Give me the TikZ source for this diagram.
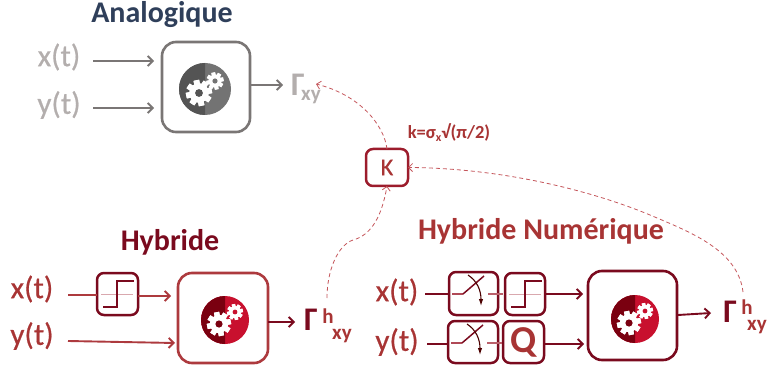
\documentclass[tikz,border=0pt]{standalone}
\usepackage{fontspec}
\setmainfont{Carlito}
\newfontfamily\medf[FakeBold=0.5]{Carlito}
\usetikzlibrary{arrows.meta}
\definecolor{navy}{HTML}{2F3F5A}
\definecolor{greyT}{HTML}{B3AEAD}
\definecolor{greyL}{HTML}{7A7675}
\definecolor{redT}{HTML}{A83434}
\definecolor{redD}{HTML}{7A0A1E}
\definecolor{redM}{HTML}{9C1C2C}
\definecolor{redL}{HTML}{D9A8AE}
\definecolor{redBox}{HTML}{AD3A3E}
\definecolor{redG}{HTML}{C8102E}
\definecolor{darkG}{HTML}{7A0010}
\definecolor{dashC}{HTML}{C4555A}
\newcommand{\fs}[1]{\fontsize{#1}{#1}\selectfont}
\newcommand{\gearshape}[4]{% x y r holecolor
  \foreach \a in {0,45,...,315}{
    \fill[white,rotate around={\a+12:(#1,#2)}] (#1-0.22*#3,#2-#3) rectangle (#1+0.22*#3,#2+#3);
  }
  \fill[white] (#1,#2) circle[radius=0.76*#3*1pt];
  \fill[#4] (#1,#2) circle[radius=0.3*#3*1pt];
}
\newcommand{\gearicon}[5]{% x y r left right
  \fill[#5] (#1,#2) circle[radius=#3pt];
  \begin{scope}
    \clip (#1-#3-1,#2-#3-1) rectangle (#1,#2+#3+1);
    \fill[#4] (#1,#2) circle[radius=#3pt];
  \end{scope}
  \gearshape{#1-6}{#2+4}{0.5*#3}{#4}
  \gearshape{#1+10}{#2-8}{0.33*#3}{#5}
}
\newcommand{\stepsym}[1]{% centre x of box, y of axis
  \draw[redL,line width=1pt] (#1-16,294) -- (#1+16,294);
  \draw[redD,line width=2pt] (#1-14,307) -- (#1,307) -- (#1,281) -- (#1+17,281);
}
\newcommand{\switchsym}[2]{% box left x, axis y
  \draw[redM!80,line width=1.5pt] (#1+4,#2) -- (#1+15,#2);
  \draw[redD,line width=1.5pt] (#1+15,#2) -- (#1+36,#2-18);
  \draw[redM!70,line width=1.5pt] (#1+40,#2) -- (#1+55,#2);
  \draw[line width=1.1pt,-{Latex[length=7pt,width=4.5pt]},black!70!red] (#1+20,#2-19) .. controls (#1+29,#2-13) and (#1+33,#2-4) .. (#1+33,#2+12);
}
\tikzset{
  every node/.style={inner sep=0pt,outer sep=0pt},
  block/.style={draw,rounded corners=#1,fill=white},
  block/.default=12pt,
  mainG/.style={block=14pt,draw=greyL,line width=2.6pt,minimum width=88pt,minimum height=90pt},
  mainR/.style={block=14pt,draw=redBox,line width=2.6pt,minimum width=90pt,minimum height=90pt},
  mainN/.style={block=14pt,draw=redD,line width=2.6pt,minimum width=89pt,minimum height=89pt},
  small/.style={block=7pt,draw=redD,line width=2.5pt},
  lbl/.style={font=\fs{31}\medf},
  gam/.style={font=\fs{33}\bfseries},
  ttl/.style={font=\fs{30}\bfseries},
  sub/.style={font=\fs{21}\bfseries},
  arrG/.style={draw=greyL,line width=1.9pt,-{Straight Barb[length=5pt,width=10pt]}},
  arrR/.style={draw=redBox,line width=1.9pt,-{Straight Barb[length=5pt,width=10pt]}},
  arrD/.style={draw=redD,line width=1.9pt,-{Straight Barb[length=5pt,width=10pt]}},
  lineD/.style={draw=redD,line width=1.9pt},
  lineR/.style={draw=redBox,line width=1.9pt},
  dashA/.style={draw=dashC,line width=0.8pt,dash pattern=on 4pt off 3pt,-{Straight Barb[length=4pt,width=8pt]}},
}
\begin{document}
\begin{tikzpicture}[x=1pt,y=-1pt]
\useasboundingbox (0,0) rectangle (767,371);
% Analogique
\node[ttl,text=navy] (tA) at (162,15) {Analogique};
\node[lbl,text=greyT] (xA) at (59,57) {x(t)};
\node[lbl,text=greyT] (yA) at (59,105) {y(t)};
\node[mainG] (bA) at (206,87) {};
\gearicon{205}{89}{26}{black!67}{black!55}
\node[gam,text=greyT] (gA) at (298,85) {Γ};
\node[sub,text=greyT] (sA) at (311,97) {xy};
\coordinate (xAa) at (93,61); \coordinate (xAb) at (154,61);
\coordinate (yAa) at (93,108); \coordinate (yAb) at (154,108);
\coordinate (oAb) at (283,85);
\draw[arrG] (xAa) -- (xAb);
\draw[arrG] (yAa) -- (yAb);
\draw[arrG] (bA.east |- oAb) -- (oAb);
% K
\node[small,draw=redM,minimum width=42pt,minimum height=37pt,text=redT,font=\fs{24}\medf] (K) at (387,167.5) {K};
\node[text=redT,font=\fs{18.5}\bfseries,anchor=base] (kl) at (449,139) {k=σ\raisebox{-3pt}{\fs{12}x}√(π/2)};
% Hybride
\node[ttl,text=redD] (tH) at (170,242) {Hybride};
\node[lbl,text=redT] (xH) at (32,289) {x(t)};
\node[lbl,text=redT] (yH) at (32,336) {y(t)};
\node[small,minimum width=41pt,minimum height=42pt] (sH) at (117.5,294) {};
\stepsym{117}
\node[mainR] (bH) at (223,318) {};
\gearicon{225}{320}{24}{darkG}{redG}
\node[gam,text=redD] (gH) at (311,320) {Γ};
\node[sub,text=redT] (hH) at (328,316) {h};
\node[sub,text=redT] (sH2) at (342,336) {xy};
\coordinate (xHa) at (68,295); \coordinate (xHb) at (171,296);
\coordinate (yHa) at (68,341); \coordinate (yHb) at (175,343);
\coordinate (oHb) at (295,322); \coordinate (dHa) at (327,298);
\draw[lineR] (xHa) -- (sH.west |- xHa);
\draw[arrR] (sH.east |- xHb) -- (xHb);
\draw[arrR] (yHa) -- (yHb);
\draw[arrD] (bH.east |- oHb) -- (oHb);
% Hybride Numerique
\node[ttl,text=redT] (tN) at (541,231) {Hybride Numérique};
\node[lbl,text=redT] (xN) at (397,292) {x(t)};
\node[lbl,text=redT] (yN) at (397,342) {y(t)};
\node[small,minimum width=49pt,minimum height=43pt] (sw1) at (473.5,293.5) {};
\node[small,minimum width=40pt,minimum height=42pt] (st1) at (525,294) {};
\node[small,minimum width=50pt,minimum height=42pt] (sw2) at (473,342) {};
\node[small,minimum width=41pt,minimum height=42pt,text=redT,font=\fs{38}\bfseries] (Q) at (523.5,342) {Q};
\switchsym{448}{294}
\switchsym{447}{343}
\stepsym{525}
\node[mainN] (bN) at (632.5,315.5) {};
\gearicon{635}{319}{24}{darkG}{redG}
\node[gam,text=redD] (gN) at (730,312) {Γ};
\node[sub,text=redT] (hN) at (747,307) {h};
\node[sub,text=redT] (sN2) at (757,327) {xy};
\coordinate (xNa) at (425,294); \coordinate (xNb) at (583,294);
\coordinate (yNa) at (427,344); \coordinate (yNb) at (584,344);
\coordinate (oNa) at (678,315); \coordinate (oNb) at (711,313);
\coordinate (dNa) at (743,292);
\draw[lineD] (xNa) -- (sw1.west |- xNa);
\draw[lineD] (yNa) -- (sw2.west |- yNa);
\draw[arrD] (st1.east |- xNb) -- (xNb);
\draw[arrD] (Q.east |- yNb) -- (yNb);
\draw[arrD] (oNa) -- (oNb);
% dashed
\coordinate (dKt) at (316,84);
\draw[dashA] (K.north) .. controls (384,125) and (360,95) .. (dKt);
\draw[dashA] (dHa) .. controls (327,270) and (338,245) .. (353,240) .. controls (372,235) and (382,215) .. (K.south);
\draw[dashA] (dNa) .. controls (738,250) and (690,232) .. (650,215) .. controls (590,190) and (500,168) .. (K.east);
\end{tikzpicture}
\end{document}
